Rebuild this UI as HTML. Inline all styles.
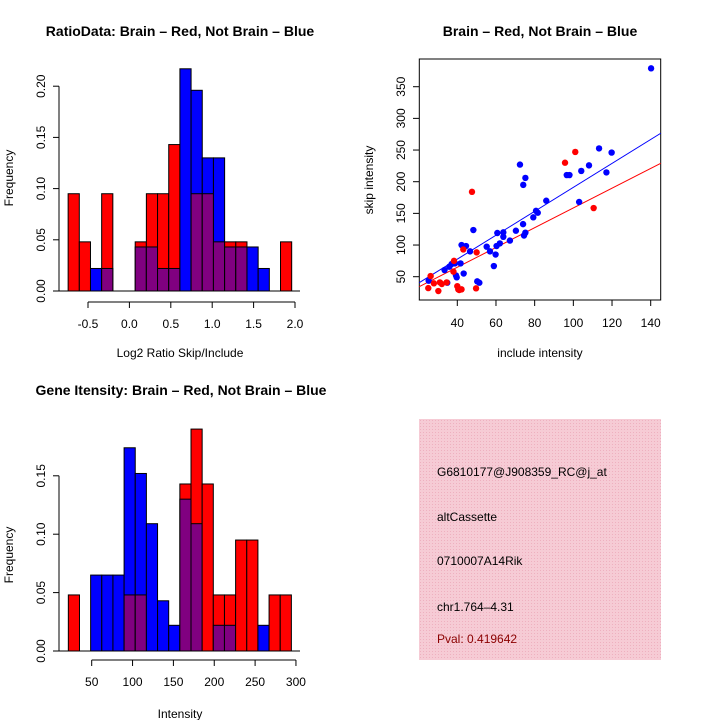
<!DOCTYPE html>
<html><head><meta charset="utf-8"><style>
body{margin:0;background:#fff}
svg text{font-family:"Liberation Sans",Arial,sans-serif}
</style></head><body>
<svg id="s" width="720" height="720" xmlns="http://www.w3.org/2000/svg">
<defs><pattern id="hatch" width="3" height="3" patternUnits="userSpaceOnUse"><rect width="3" height="3" fill="#f6cbd5"/><rect width="1" height="1" fill="#eeb0bf"/></pattern></defs>
<g id="p1"></g>
<g id="p2"></g>
<g id="p3"></g>
<g>
<rect x="419" y="419" width="242" height="241" fill="url(#hatch)"/>
<text x="437" y="476" font-size="12">G6810177@J908359_RC@j_at</text>
<text x="437" y="521" font-size="12">altCassette</text>
<text x="437" y="565" font-size="12">0710007A14Rik</text>
<text x="437" y="611" font-size="12">chr1.764–4.31</text>
<text x="437" y="643" font-size="12" fill="#8b0000">Pval: 0.419642</text>
</g>
</svg>
<script>
// Ratio histogram data
const ratioBinStart = -0.74, ratioBinWidth = 0.135;
const ratioRed  = [0.095,0.048,0,0.095,0,0,0.048,0.095,0.095,0.143,0,0.095,0.095,0.048,0.048,0.048,0,0,0,0.048];
const ratioBlue = [0,0,0.022,0.022,0,0,0.043,0.043,0.022,0.022,0.217,0.196,0.13,0.13,0.043,0.043,0.043,0.022,0,0];
const ratioXTicks = [-0.5,0,0.5,1,1.5,2];
const ratioXLabels = ["-0.5","0.0","0.5","1.0","1.5","2.0"];
const ratioYTicks = [0,0.05,0.1,0.15,0.2];
const ratioYLabels = ["0.00","0.05","0.10","0.15","0.20"];
// Intensity histogram data
const intBinStart = 21.4, intBinWidth = 13.65;
const intRed  = [0.048,0,0,0,0,0.048,0.048,0,0,0,0.143,0.19,0.143,0.048,0.048,0.095,0.095,0,0.048,0.048];
const intBlue = [0,0,0.065,0.065,0.065,0.174,0.152,0.109,0.043,0.022,0.13,0.109,0,0.022,0.022,0,0,0.022,0,0];
const intXTicks = [50,100,150,200,250,300];
const intYTicks = [0,0.05,0.1,0.15];
const intYLabels = ["0.00","0.05","0.10","0.15"];
// Scatter data
const blueX = [140.2,113.3,119.8,108.1,104.1,117.1,96.6,98,103,72.4,75.2,74.1,86,80.7,81.6,79.3,74,70.3,75.2,74.5,63.8,63.8,60.7,62,60.3,67.2,55.2,56.9,59.8,58.9,48.3,42.2,44.5,46.6,41.7,38.8,37.1,35.9,33.4,39.3,39.7,43.3,34.8,25.2,50.3,51.4];
const blueY = [379,252.6,246,225.8,217,214.7,210.5,210.5,168,227,206,195,170,154,151,143.7,133,122.6,119.5,115,120,113,119,102.6,98.4,107,97.4,90,85,66.8,123.7,100,98.4,90,71,71,70,65.8,60.5,52,49,55,40.5,43.7,42.6,40.5];
const redX = [101,95.7,110.5,47.6,50,43.1,38.3,38,26.2,25,30.2,27.9,31,34.5,32,40,41,42.2,40.5,49.7];
const redY = [247,230,158.4,184,88.4,93,75,58,51,32,27.4,39.5,41,41,38.4,35,29,30,30,31.6];
const blueFit = [2.1,1.89];
const redFit = [2.5,1.56];
const scXTicks = [40,60,80,100,120,140];
const scYTicks = [50,100,150,200,250,300,350];

const NS="http://www.w3.org/2000/svg";
function mk(parent,tag,attrs,txt){const e=document.createElementNS(NS,tag);for(const k in attrs)e.setAttribute(k,attrs[k]);if(txt!==undefined)e.textContent=txt;parent.appendChild(e);return e;}

function histogram(g,cfg){
  const sx=v=>cfg.x0px+(v-cfg.x0)*cfg.xs, sy=v=>cfg.y0px-v*cfg.ys;
  for(let i=0;i<cfg.red.length;i++){
    const r=cfg.red[i],b=cfg.blue[i];
    const xl=sx(cfg.start+i*cfg.w), xr=sx(cfg.start+(i+1)*cfg.w);
    const mx=Math.max(r,b);
    if(mx<=0)continue;
    const c=r>=b?"#ff0000":"#0000ff";
    const e=mk(g,"rect",{x:xl,y:sy(mx),width:xr-xl,height:sy(0)-sy(mx),fill:c,stroke:"#000","stroke-width":1});
    
    
    const mn=Math.min(r,b);
    if(mn>0){
      const p=mk(g,"rect",{x:xl,y:sy(mn),width:xr-xl,height:sy(0)-sy(mn),fill:"#800080",stroke:"#000","stroke-width":1});
      
      
    }
  }
  // baseline
  mk(g,"line",{x1:cfg.blx1,x2:cfg.blx2,y1:sy(0),y2:sy(0),stroke:"#000"});
  // y axis
  const yt=cfg.yTicks;
  mk(g,"line",{x1:cfg.yax,x2:cfg.yax,y1:sy(yt[0]),y2:sy(yt[yt.length-1]),stroke:"#000"});
  yt.forEach((v,i)=>{mk(g,"line",{x1:cfg.yax-6,x2:cfg.yax,y1:sy(v),y2:sy(v),stroke:"#000"});
    const t=mk(g,"text",{x:cfg.yax-14,y:sy(v),"font-size":12,"text-anchor":"middle",transform:`rotate(-90 ${cfg.yax-14} ${sy(v)})`},cfg.yLabels[i]);
    
    });
  // x axis
  const xt=cfg.xTicks;
  mk(g,"line",{x1:sx(xt[0]),x2:sx(xt[xt.length-1]),y1:cfg.xay,y2:cfg.xay,stroke:"#000"});
  xt.forEach((v,i)=>{mk(g,"line",{x1:sx(v),x2:sx(v),y1:cfg.xay,y2:cfg.xay+6,stroke:"#000"});
    const t=mk(g,"text",{x:sx(v),y:cfg.xay+26,"font-size":12,"text-anchor":"middle"},cfg.xLabels[i]);
    
    });
}

histogram(document.getElementById('p1'),{x0:-0.5,x0px:88,xs:82.8,y0px:291,ys:1024,start:ratioBinStart,w:ratioBinWidth,red:ratioRed,blue:ratioBlue,
  yTicks:ratioYTicks,yLabels:ratioYLabels,xTicks:ratioXTicks,xLabels:ratioXLabels,yax:59,xay:302,blx1:59,blx2:300});
histogram(document.getElementById('p3'),{x0:50,x0px:91.7,xs:0.817,y0px:651,ys:1168,start:intBinStart,w:intBinWidth,red:intRed,blue:intBlue,
  yTicks:intYTicks,yLabels:intYLabels,xTicks:intXTicks,xLabels:intXTicks.map(String),yax:59,xay:660,blx1:59,blx2:300});

// scatter
(function(){
  const g=document.getElementById('p2');
  const sx=v=>457.3+(v-40)*1.934, sy=v=>276.7-(v-50)*0.6333;
  mk(g,"rect",{x:419.3,y:59,width:241.4,height:241,fill:"none",stroke:"#000"});
  scXTicks.forEach(v=>{mk(g,"line",{x1:sx(v),x2:sx(v),y1:300,y2:306,stroke:"#000"});
    const t=mk(g,"text",{x:sx(v),y:327,"font-size":12,"text-anchor":"middle"},String(v));
    
    });
  scYTicks.forEach(v=>{mk(g,"line",{x1:413,x2:419.3,y1:sy(v),y2:sy(v),stroke:"#000"});
    const t=mk(g,"text",{x:405,y:sy(v),"font-size":12,"text-anchor":"middle",transform:`rotate(-90 405 ${sy(v)})`},String(v));
    
    });
  const clip=mk(g,"g",{});
  [[blueFit,"#0000ff"],[redFit,"#ff0000"]].forEach(([f,c])=>{
    const xa=20.3,xb=145.2;
    const l=mk(clip,"line",{x1:sx(xa),y1:sy(f[0]+f[1]*xa),x2:sx(xb),y2:sy(f[0]+f[1]*xb),stroke:c,"stroke-width":1});
    
    
  });
  blueX.forEach((x,i)=>{const c=mk(g,"circle",{cx:sx(x),cy:sy(blueY[i]),r:3.2,fill:"#0000ff"});
    
    });
  redX.forEach((x,i)=>{const c=mk(g,"circle",{cx:sx(x),cy:sy(redY[i]),r:3.2,fill:"#ff0000"});
    
    });
})();
</script>
<svg width="720" height="720" style="position:absolute;left:0;top:0" xmlns="http://www.w3.org/2000/svg">
<text x="180" y="36" font-size="14" font-weight="bold" text-anchor="middle" font-family="Liberation Sans, sans-serif">RatioData: Brain – Red, Not Brain – Blue</text>
<text x="540" y="36" font-size="14" font-weight="bold" text-anchor="middle" font-family="Liberation Sans, sans-serif">Brain – Red, Not Brain – Blue</text>
<text x="181" y="395" font-size="14" font-weight="bold" text-anchor="middle" font-family="Liberation Sans, sans-serif">Gene Itensity: Brain – Red, Not Brain – Blue</text>
<text x="180" y="357" font-size="12" text-anchor="middle" font-family="Liberation Sans, sans-serif">Log2 Ratio Skip/Include</text>
<text x="540" y="357" font-size="12" text-anchor="middle" font-family="Liberation Sans, sans-serif">include intensity</text>
<text x="180" y="718" font-size="12" text-anchor="middle" font-family="Liberation Sans, sans-serif">Intensity</text>
<text x="13" y="178" font-size="12" text-anchor="middle" transform="rotate(-90 13 178)" font-family="Liberation Sans, sans-serif">Frequency</text>
<text x="13" y="555" font-size="12" text-anchor="middle" transform="rotate(-90 13 555)" font-family="Liberation Sans, sans-serif">Frequency</text>
<text x="373" y="180" font-size="12" text-anchor="middle" transform="rotate(-90 373 180)" font-family="Liberation Sans, sans-serif">skip intensity</text>
</svg>
</body></html>
